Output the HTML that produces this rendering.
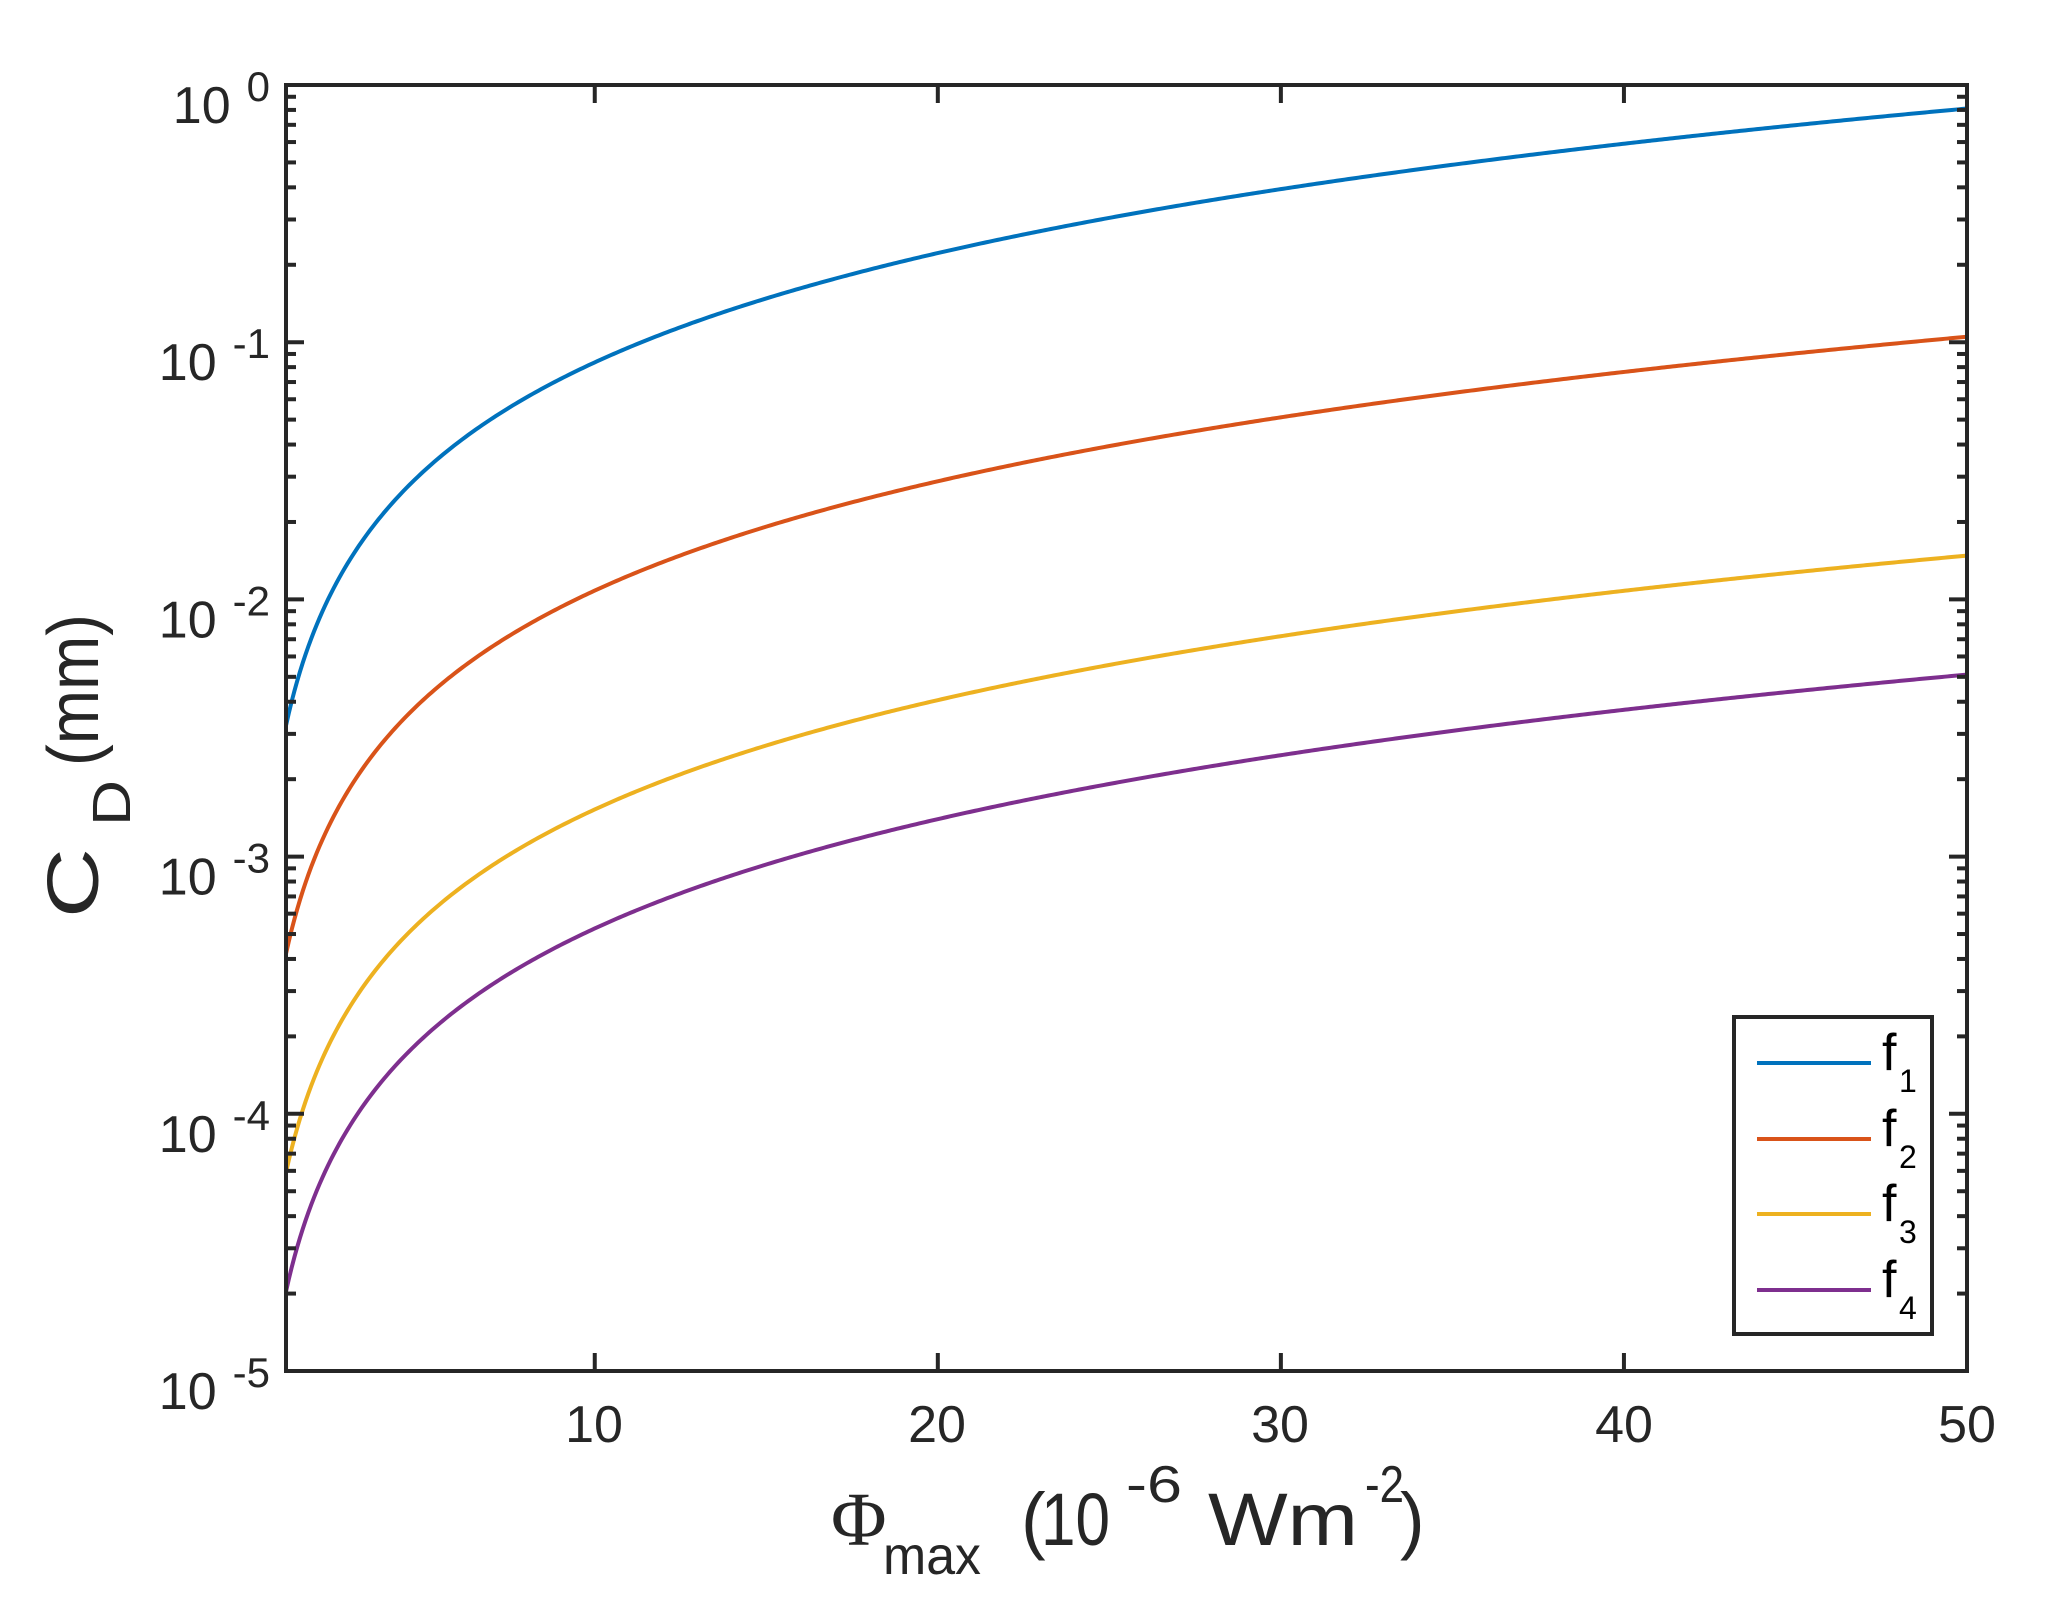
<!DOCTYPE html>
<html><head><meta charset="utf-8"><style>
html,body{margin:0;padding:0;background:#fff;}
svg{display:block;font-family:"Liberation Sans",Arial,sans-serif;}
</style></head><body>
<svg id="s" width="2048" height="1611" viewBox="0 0 2048 1611" xmlns="http://www.w3.org/2000/svg">
<rect width="2048" height="1611" fill="#fff"/>
<g id="curves" fill="none" stroke-width="4" stroke-linejoin="round"></g>
<g id="ticks" stroke="#262626" stroke-width="4"></g>
<rect x="286" y="85" width="1681" height="1286" fill="none" stroke="#262626" stroke-width="4"/>
<g fill="#262626" font-size="52">
<text x="594" y="1442" text-anchor="middle">10</text>
<text x="937" y="1442" text-anchor="middle">20</text>
<text x="1280" y="1442" text-anchor="middle">30</text>
<text x="1624" y="1442" text-anchor="middle">40</text>
<text x="1967" y="1442" text-anchor="middle">50</text>
</g>
<g id="ylab" fill="#262626" font-size="52"></g>
<g fill="#262626">
<text x="831" y="1545" font-family="Liberation Serif,serif" font-size="76">Φ</text>
<text x="883" y="1574" font-size="54" textLength="98" lengthAdjust="spacingAndGlyphs">max</text>
<text x="1021" y="1545" font-size="74">(</text>
<text x="1041" y="1545" font-size="74" textLength="69" lengthAdjust="spacingAndGlyphs">10</text>
<text x="1126" y="1502" font-size="52" textLength="56" lengthAdjust="spacingAndGlyphs">-6</text>
<text x="1208" y="1545" font-size="74" textLength="150" lengthAdjust="spacingAndGlyphs">Wm</text>
<text x="1365" y="1502" font-size="52" textLength="39" lengthAdjust="spacingAndGlyphs">-2</text>
<text x="1400" y="1545" font-size="74">)</text>
</g>
<g fill="#262626" transform="translate(98,918) rotate(-90)">
<text x="0" y="0" font-size="72" textLength="70" lengthAdjust="spacingAndGlyphs">C</text>
<text x="92" y="32" font-size="54" textLength="46" lengthAdjust="spacingAndGlyphs">D</text>
<text x="152" y="0" font-size="72" textLength="152" lengthAdjust="spacingAndGlyphs">(mm)</text>
</g>
<rect x="1734" y="1017" width="198" height="317" fill="#fff" stroke="#262626" stroke-width="4"/>
<g stroke-width="4">
<line x1="1757" y1="1063" x2="1871" y2="1063" stroke="#0072BD"/>
<line x1="1757" y1="1139" x2="1871" y2="1139" stroke="#D95319"/>
<line x1="1757" y1="1214" x2="1871" y2="1214" stroke="#EDB120"/>
<line x1="1757" y1="1290" x2="1871" y2="1290" stroke="#7E2F8E"/>
</g>
<g fill="#000" font-size="52">
<text x="1882" y="1070">f</text><text x="1899" y="1092" font-size="32">1</text>
<text x="1882" y="1146">f</text><text x="1899" y="1168" font-size="32">2</text>
<text x="1882" y="1221">f</text><text x="1899" y="1243" font-size="32">3</text>
<text x="1882" y="1297">f</text><text x="1899" y="1319" font-size="32">4</text>
</g>
</svg>
<script>
(function(){
var NS="http://www.w3.org/2000/svg";
var L=286,R=1967,T=85,B=1371;
function X(x){return L+(x-1)*(R-L)/49;}
function Y(v){return B-(Math.log10(v)+5)*(B-T)/5;}
var cur=document.getElementById('curves');
var series=[[0.81,'#0072BD'],[0.105,'#D95319'],[0.0148,'#EDB120'],[0.0051,'#7E2F8E']];
var p=1.412;
series.forEach(function(s){
 var d='';
 for(var i=0;i<=600;i++){var x=1+49*i/600;var v=s[0]*Math.pow(x/50,p);
  d+=(i?'L':'M')+X(x).toFixed(2)+' '+Y(v).toFixed(2);}
 var e=document.createElementNS(NS,'path');e.setAttribute('d',d);e.setAttribute('stroke',s[1]);cur.appendChild(e);
});
var tk=document.getElementById('ticks');
function ln(x1,y1,x2,y2){var e=document.createElementNS(NS,'line');e.setAttribute('x1',x1);e.setAttribute('y1',y1);e.setAttribute('x2',x2);e.setAttribute('y2',y2);tk.appendChild(e);}
for(var dec=-5;dec<=0;dec++){
 var y=Y(Math.pow(10,dec));ln(L,y,L+18,y);ln(R,y,R-18,y);
 if(dec<0)for(var k=2;k<=9;k++){var yy=Y(k*Math.pow(10,dec));ln(L,yy,L+10,yy);ln(R,yy,R-10,yy);}
}
[10,20,30,40,50].forEach(function(v){var x=X(v);ln(x,B,x,B-18);ln(x,T,x,T+18);});
var yl=document.getElementById('ylab');
for(var dec=-5;dec<=0;dec++){
 var y=Y(Math.pow(10,dec));
 var t=document.createElementNS(NS,'text');t.setAttribute('x',270);t.setAttribute('y',y+38);t.setAttribute('text-anchor','end');
 var a=document.createElementNS(NS,'tspan');a.textContent='10';t.appendChild(a);
 var b=document.createElementNS(NS,'tspan');b.setAttribute('dx',16);b.setAttribute('dy',-22);b.setAttribute('font-size',42);b.textContent=(dec==0?'0':String(dec));t.appendChild(b);
 yl.appendChild(t);
}
})();
</script>
</body></html>
